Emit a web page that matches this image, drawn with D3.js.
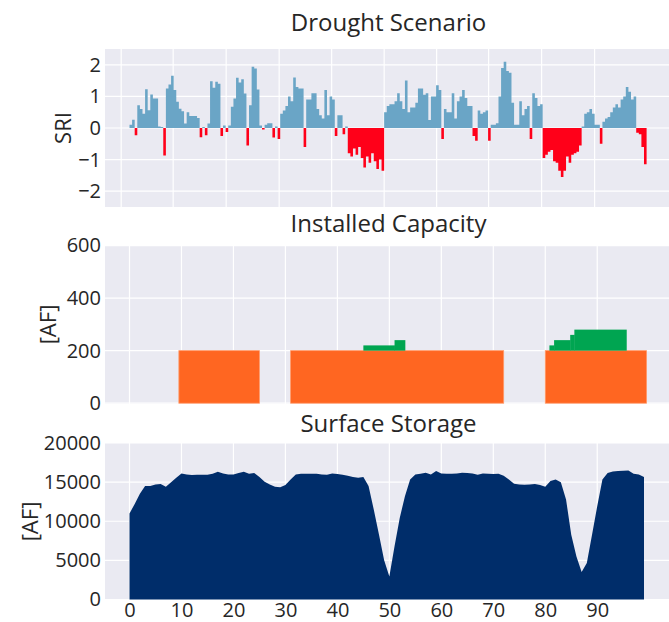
<!DOCTYPE html>
<html>
<head>
<meta charset="utf-8">
<script src="https://cdn.jsdelivr.net/npm/d3@7"></script>
<style>
body{margin:0;background:#fff;}
text{font-family:"Open Sans",sans-serif;fill:#262626;}
</style>
</head>
<body>
<div id="chart"></div>
<script>

/* ==========================
   Data
========================== */

// SRI, one value per half year (year 0 .. 99.5)
const sri = [
0.1,0.26,-0.23,0.72,0.6,0.45,1.23,0.56,1.06,0.93,
0.93,0.05,0.03,-0.87,1.25,1.38,1.65,1.2,0.83,0.61,
0.53,0.14,0.5,0.38,0.38,0.38,0.32,-0.29,0.03,-0.23,
0.14,1.48,1.27,1.46,1.4,-0.25,0.08,-0.13,0.08,0.67,
0.93,1.59,1.44,1.54,1.09,-0.55,0.72,1.94,1.88,1.22,
0.08,-0.05,0.1,0.15,0.15,-0.3,0.05,-0.35,0.45,0.55,
0.7,1.0,0.85,1.6,1.3,1.25,1.25,-0.6,0.9,0.9,
1.1,1.1,0.6,0.4,0.3,1.2,0.4,1.0,0.9,-0.25,
0.4,0.4,-0.2,0.05,-0.8,-0.9,-0.65,-0.85,-0.6,-0.95,
-1.25,-0.9,-1.1,-0.8,-1.05,-1.3,-1.0,-1.35,0.5,0.7,
0.75,0.75,0.85,1.1,0.85,0.6,1.5,0.5,0.65,0.65,
0.8,1.25,1.25,1.05,1.1,0.25,1.0,1.0,1.35,1.2,
-0.35,0.6,0.5,0.5,1.1,0.3,0.85,1.0,1.2,0.95,
0.7,0.7,-0.25,-0.4,0.55,0.45,0.5,0.55,-0.4,0.1,
0.1,0.15,1.0,1.9,2.1,1.8,1.75,0.8,0.1,0.1,
0.85,0.4,0.6,0.7,-0.35,1.1,0.95,0.7,0.75,-0.95,
-0.85,-0.75,-0.7,-1.05,-1.1,-1.35,-1.55,-1.35,-0.9,-1.1,
-0.85,-0.8,-0.75,-0.55,0.05,0.45,0.5,0.6,0.45,0.1,
0.1,-0.5,0.2,0.3,0.35,0.5,0.65,0.75,0.65,0.9,
1.0,1.3,1.15,0.9,1.0,-0.15,-0.2,-0.6,-1.15
];

// installed capacity: base plant periods [start, end] and extra capacity steps [start, end, extra]
const basePeriods = [[9.5, 25], [31, 72], [80, 99.5]];
const baseLevel = 200;
const extraSteps = [[45, 51, 20], [51, 53, 40], [80.8, 81.7, 20], [81.7, 84.8, 40], [84.8, 85.6, 60], [85.6, 95.6, 80]];

// surface storage [AF], one value per year (0 .. 99)
const storage = [
11000,12200,13500,14500,14500,14700,14750,14400,15000,15560,
16100,15980,15900,15940,15940,15940,16070,16330,16110,15980,
15980,16160,16330,16070,16160,15640,15040,14700,14400,14360,
14620,15340,15980,16070,16070,16070,16070,15980,15940,16110,
16030,15940,15810,15640,15560,15640,14500,11500,8300,5000,
2950,6800,10430,13200,15340,15980,16070,16200,15980,16410,
16110,16070,16070,16110,16200,16160,16110,15940,16110,16070,
16030,16070,15810,15340,14790,14700,14660,14700,14750,14620,
14400,15130,15340,15000,12780,8290,5510,3500,4660,8290,
11920,15340,16160,16370,16410,16450,16500,16070,15980,15640
];

const sriTicks = [-2, -1, 0, 1, 2];
const capTicks = [0, 200, 400, 600];
const storageTicks = [0, 5000, 10000, 15000, 20000];
const yearTicks = [0, 10, 20, 30, 40, 50, 60, 70, 80, 90];
const sriGridYears = [-1.6, 8.4, 18.6, 28.8, 38.9, 49.0, 59.1, 69.1, 79.3, 89.5];

/* ==========================
   Layout
========================== */

const width = 669;
const height = 622;
const left = 105;
const right = 672;

const svg = d3.select("#chart")
.append("svg")
.attr("width", width)
.attr("height", height);

const x = d3.scaleLinear()
.domain([0, 99])
.range([129.5, 644]);

function panel(top, bottom, domain, ticks, gridYears, title, titleY, label, labelX){

const y = d3.scaleLinear()
.domain(domain)
.range([bottom, top]);

const g = svg.append("g");

g.append("rect")
.attr("x", left)
.attr("y", top)
.attr("width", right - left)
.attr("height", bottom - top)
.attr("fill", "#eaeaf2");

g.selectAll(".hgrid")
.data(ticks)
.enter()
.append("line")
.attr("x1", left)
.attr("x2", right)
.attr("y1", d => y(d))
.attr("y2", d => y(d))
.attr("stroke", "#fff")
.attr("stroke-width", 1.2);

g.selectAll(".vgrid")
.data(gridYears)
.enter()
.append("line")
.attr("x1", d => x(d))
.attr("x2", d => x(d))
.attr("y1", top)
.attr("y2", bottom)
.attr("stroke", "#fff")
.attr("stroke-width", 1.2);

const axis = g.append("g")
.attr("transform", `translate(${left},0)`)
.call(d3.axisLeft(y).tickValues(ticks).tickFormat(d3.format("d")).tickSize(0).tickPadding(4));

axis.select(".domain").remove();

axis.selectAll("text")
.style("font-size", "20px")
.style("font-family", "'Open Sans',sans-serif")
.attr("fill", "#262626");

svg.append("text")
.attr("x", (left + right) / 2)
.attr("y", titleY)
.attr("text-anchor", "middle")
.style("font-size", "24px")
.attr("fill", "#1a1a1a")
.text(title);

svg.append("text")
.attr("transform", `translate(${labelX},${(top + bottom) / 2}) rotate(-90)`)
.attr("text-anchor", "middle")
.attr("dominant-baseline", "central")
.style("font-size", "22px")
.text(label);

const marks = svg.append("g");

return {y, marks};

}

/* ==========================
   Drought Scenario
========================== */

const p1 = panel(49, 207, [-2.5, 2.5], sriTicks, sriGridYears, "Drought Scenario", 31, "SRI", 62);

const sriPoints = sri.map((v, i) => ({t: i / 2, v: v}));
sriPoints.push({t: sri.length / 2, v: 0});

const stepArea = d3.area()
.curve(d3.curveStepAfter)
.x(d => x(d.t))
.y0(p1.y(0));

p1.marks.append("path")
.datum(sriPoints)
.attr("fill", "#6aa5c6")
.attr("d", stepArea.y1(d => p1.y(Math.max(d.v, 0))));

p1.marks.append("path")
.datum(sriPoints)
.attr("fill", "#ff0019")
.attr("d", stepArea.y1(d => p1.y(Math.min(d.v, 0))));

/* ==========================
   Installed Capacity
========================== */

const p2 = panel(245, 404, [-3, 602], capTicks, yearTicks, "Installed Capacity", 232, "[AF]", 47);

p2.marks.selectAll(".base")
.data(basePeriods)
.enter()
.append("rect")
.attr("x", d => x(d[0]))
.attr("width", d => x(d[1]) - x(d[0]))
.attr("y", p2.y(baseLevel))
.attr("height", p2.y(0) - p2.y(baseLevel))
.attr("fill", "#ff6621")
.attr("stroke", "#ff9a6a")
.attr("stroke-width", 0.8);

p2.marks.selectAll(".extra")
.data(extraSteps)
.enter()
.append("rect")
.attr("x", d => x(d[0]))
.attr("width", d => x(d[1]) - x(d[0]) + 0.4)
.attr("y", d => p2.y(baseLevel + d[2]))
.attr("height", d => p2.y(baseLevel) - p2.y(baseLevel + d[2]))
.attr("fill", "#00a551");

/* ==========================
   Surface Storage
========================== */

const p3 = panel(443, 600, [-64, 20000], storageTicks, yearTicks, "Surface Storage", 432, "[AF]", 29);

p3.marks.append("path")
.datum(storage)
.attr("fill", "#002d6a")
.attr("d", d3.area()
.x((d, i) => x(i))
.y0(p3.y(0))
.y1(d => p3.y(d)));

const xAxis = svg.append("g")
.attr("transform", "translate(0,600)")
.call(d3.axisBottom(x).tickValues(yearTicks).tickSize(0).tickPadding(3));

xAxis.select(".domain").remove();

xAxis.selectAll("text")
.style("font-size", "20px")
.style("font-family", "'Open Sans',sans-serif")
.attr("fill", "#262626");

</script>
</body>
</html>
